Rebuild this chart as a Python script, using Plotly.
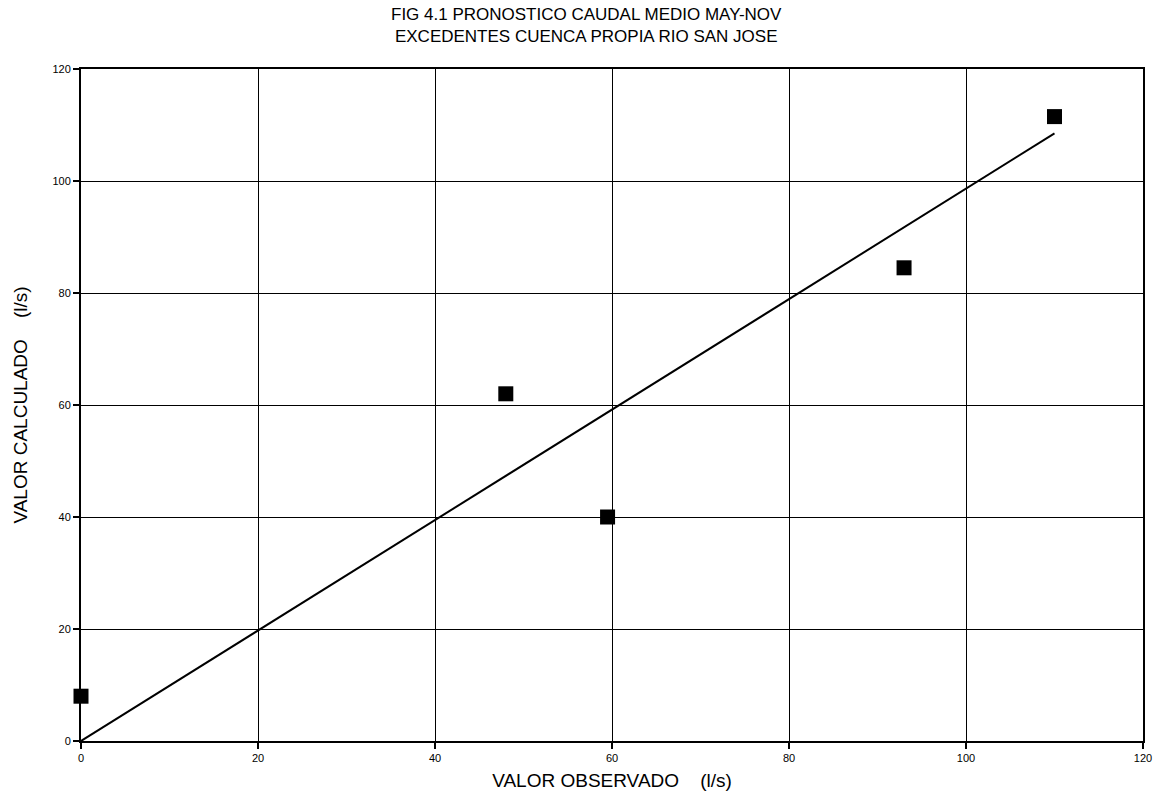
import plotly.graph_objects as go

# Data
obs = [0, 48, 59.5, 93, 110]
calc = [8, 62, 40, 84.5, 111.5]
fit_x = [0, 110]
fit_y = [0, 108.5]
ticks = [0, 20, 40, 60, 80, 100, 120]
title_lines = ["FIG 4.1 PRONOSTICO CAUDAL MEDIO MAY-NOV",
               "EXCEDENTES CUENCA PROPIA RIO SAN JOSE"]

fig = go.Figure()
fig.add_trace(go.Scatter(x=fit_x, y=fit_y, mode="lines",
                         line=dict(color="black", width=2), showlegend=False))
fig.add_trace(go.Scatter(x=obs, y=calc, mode="markers",
                         marker=dict(symbol="square", size=15, color="black"),
                         showlegend=False, cliponaxis=False))

font = "Liberation Sans, Arial, sans-serif"
T, B, L, R = 69, 61, 81, 13
plot_h = 802 - T - B
plot_w = 1156 - L - R
fig.update_layout(
    width=1156, height=802,
    paper_bgcolor="white", plot_bgcolor="white",
    margin=dict(l=L, r=R, t=T, b=B),
    font=dict(family=font, color="black"),
)
fig.add_annotation(text="<br>".join(title_lines), xref="paper", yref="paper",
                   x=(586 - L) / plot_w, y=1 + (T - 25) / plot_h,
                   xanchor="center", yanchor="middle", align="center",
                   showarrow=False, font=dict(family=font, size=17, color="black"))

fig.update_xaxes(range=[0, 120], tickvals=ticks, ticktext=[str(t) for t in ticks],
                 showgrid=True, gridcolor="black", gridwidth=1,
                 showline=True, linecolor="black", linewidth=2, mirror=True,
                 ticks="outside", ticklen=6, tickcolor="black", tickwidth=2,
                 tickfont=dict(size=11), zeroline=False, automargin=False,
                 title=dict(text="VALOR OBSERVADO&nbsp;&nbsp;&nbsp;&nbsp;(l/s)", standoff=10,
                            font=dict(size=19)))
fig.update_yaxes(range=[0, 120], tickvals=ticks, ticktext=[str(t) for t in ticks],
                 showgrid=True, gridcolor="black", gridwidth=1,
                 showline=True, linecolor="black", linewidth=2, mirror=True,
                 ticks="outside", ticklen=6, tickcolor="black", tickwidth=2,
                 tickfont=dict(size=11), zeroline=False, automargin=False,
                 title=dict(text="VALOR CALCULADO&nbsp;&nbsp;&nbsp;&nbsp;(l/s)", standoff=20,
                            font=dict(size=19)))

fig.write_html("out.html")
